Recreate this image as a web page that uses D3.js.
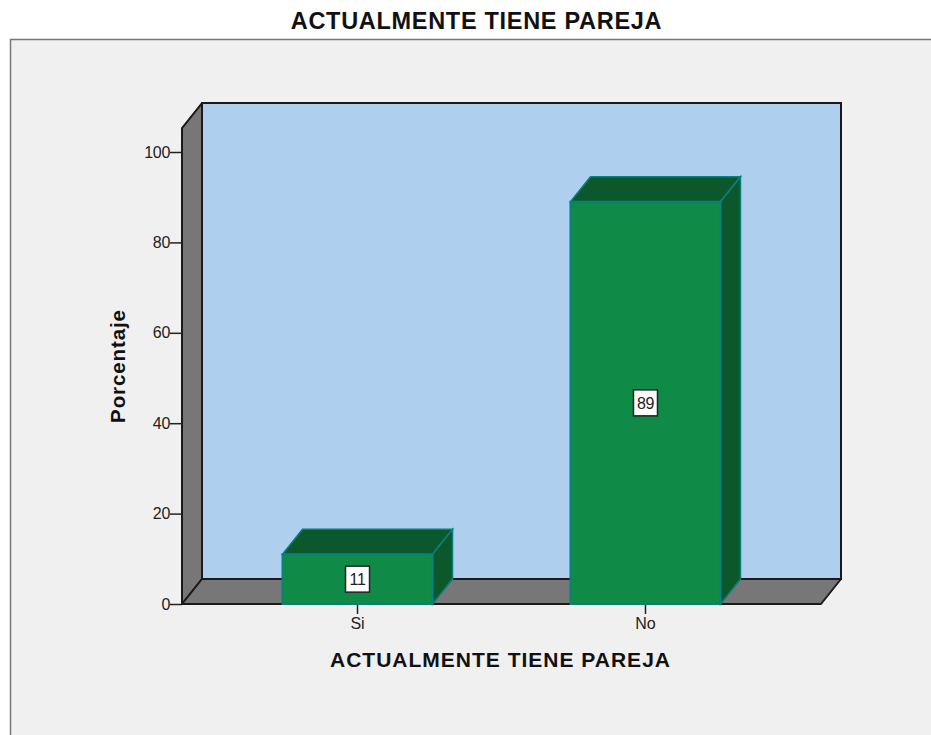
<!DOCTYPE html>
<html><head><meta charset="utf-8">
<script src="https://cdn.jsdelivr.net/npm/d3@7"></script>
<style>html,body{margin:0;padding:0;background:#fff}svg{display:block}text{font-family:"Liberation Sans",Arial,sans-serif}</style>
</head><body><svg id="c" width="931" height="735"></svg>
<script>
const categories = ["Si","No"];
const values = [11,89];
const valueTicks = [0,20,40,60,80,100];
const chartTitle = "ACTUALMENTE TIENE PAREJA";
const xTitle = "ACTUALMENTE TIENE PAREJA";
const yTitle = "Porcentaje";

const svg = d3.select("#c");
const dx = 20, dy = 25;
const x = d3.scaleBand().domain(categories).range([182,821]).paddingInner(0.479).paddingOuter(0.349);
const y = d3.scaleLinear().domain([0,100]).range([604,152]);
const yTop = y(105.3);
const pts = a => a.map(p=>p.join(",")).join(" ");

svg.append("rect").attr("x",10.5).attr("y",39.5).attr("width",930).attr("height",705)
  .attr("fill","#f0f0f0").attr("stroke","#777").attr("stroke-width",1.5);
svg.append("text").attr("x",476.5).attr("y",29).attr("text-anchor","middle")
  .attr("font-size",23.5).attr("font-weight",700).attr("letter-spacing",0.7).attr("fill","#111").text(chartTitle);

const x0=182, x1=821, y0=y(0);
const wallStroke="#1a1a1a";
svg.append("polygon").attr("points",pts([[x0+dx,yTop-dy],[x1+dx,yTop-dy],[x1+dx,y0-dy],[x0+dx,y0-dy]]))
  .attr("fill","#aed0ee").attr("stroke",wallStroke).attr("stroke-width",2);
svg.append("polygon").attr("points",pts([[x0,yTop],[x0+dx,yTop-dy],[x0+dx,y0-dy],[x0,y0]]))
  .attr("fill","#777").attr("stroke",wallStroke).attr("stroke-width",2).attr("stroke-linejoin","round");
svg.append("polygon").attr("points",pts([[x0,y0],[x0+dx,y0-dy],[x1+dx,y0-dy],[x1,y0]]))
  .attr("fill","#777").attr("stroke",wallStroke).attr("stroke-width",2).attr("stroke-linejoin","round");

const yAxis = d3.axisLeft(y).tickValues(valueTicks).tickSize(12).tickPadding(0).tickFormat(d3.format("d"));
const gy = svg.append("g").attr("transform",`translate(${x0},0)`).call(yAxis);
gy.select(".domain").remove();
gy.selectAll("line").attr("stroke","#222").attr("stroke-width",1.5);
gy.selectAll("text").attr("font-size",16).attr("letter-spacing",-0.3).attr("fill","#222");

const xAxis = d3.axisBottom(x).tickSize(10).tickPadding(4);
const gx = svg.append("g").attr("transform",`translate(0,${y0})`).call(xAxis);
gx.select(".domain").remove();
gx.selectAll("line").attr("stroke","#222").attr("stroke-width",1.5);
gx.selectAll("text").attr("font-size",16).attr("fill","#222");

const bars = svg.append("g").selectAll("g").data(categories.map((c,i)=>({c,v:values[i]}))).join("g");
const edge="#0b7f7a";
bars.append("polygon").attr("fill","#0a582c").attr("stroke",edge).attr("stroke-width",1.5)
  .attr("points",d=>{const l=x(d.c),r=l+x.bandwidth(),t=y(d.v);return pts([[l,t],[l+dx,t-dy],[r+dx,t-dy],[r,t]]);});
bars.append("polygon").attr("fill","#0a582c").attr("stroke",edge).attr("stroke-width",1.5)
  .attr("points",d=>{const r=x(d.c)+x.bandwidth(),t=y(d.v);return pts([[r,t],[r+dx,t-dy],[r+dx,y0-dy],[r,y0]]);});
bars.append("rect").attr("fill","#0f8a47").attr("stroke",edge).attr("stroke-width",2)
  .attr("x",d=>x(d.c)).attr("y",d=>y(d.v)).attr("width",x.bandwidth()).attr("height",d=>y0-y(d.v));
bars.append("rect").attr("fill","#fff").attr("stroke","#222").attr("stroke-width",1.5)
  .attr("width",24).attr("height",26)
  .attr("x",d=>x(d.c)+x.bandwidth()/2-12)
  .attr("y",d=>y(d.v/2)-13);
bars.append("text").attr("text-anchor","middle").attr("font-size",16).attr("letter-spacing",-0.4).attr("fill","#222")
  .attr("x",d=>x(d.c)+x.bandwidth()/2).attr("y",d=>y(d.v/2)+6).text(d=>d.v);

svg.append("text").attr("x",500.5).attr("y",667).attr("text-anchor","middle")
  .attr("font-size",21).attr("font-weight",700).attr("letter-spacing",1).attr("fill","#111").text(xTitle);
svg.append("text").attr("transform","translate(125,366) rotate(-90)").attr("text-anchor","middle")
  .attr("font-size",20.5).attr("font-weight",700).attr("letter-spacing",0.9).attr("fill","#111").text(yTitle);
</script></body></html>
